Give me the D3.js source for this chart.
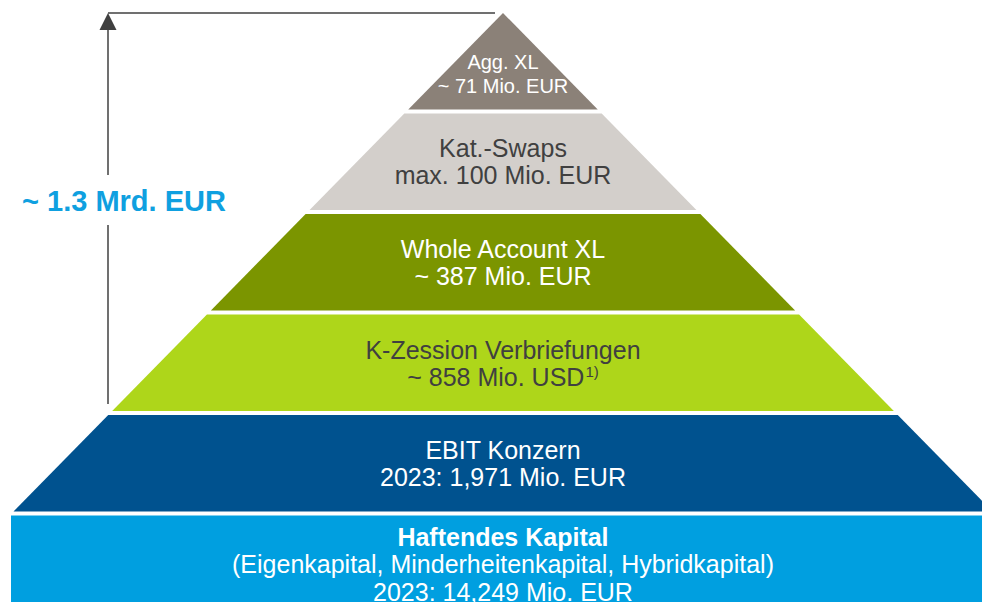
<!DOCTYPE html>
<html><head><meta charset="utf-8">
<script src="https://cdn.jsdelivr.net/npm/d3@7/dist/d3.min.js"></script>
<style>html,body{margin:0;padding:0;background:#fff;overflow:hidden}</style>
</head><body>
<svg id="chart" width="982" height="602"></svg>
<script>
// ---- data ----
const layers = ["Agg. XL", "Kat.-Swaps", "Whole Account XL", "K-Zession Verbriefungen", "EBIT Konzern", "Haftendes Kapital"];
const subLabels = ["", "", "", "", "", "(Eigenkapital, Minderheitenkapital, Hybridkapital)"];
const valueLabels = ["~ 71 Mio. EUR", "max. 100 Mio. EUR", "~ 387 Mio. EUR", "~ 858 Mio. USD", "2023: 1,971 Mio. EUR", "2023: 14,249 Mio. EUR"];
const footnotes = ["", "", "", "1)", "", ""];
const totalLabel = "~ 1.3 Mrd. EUR";

// ---- styles ----
const fills = ["#8b8178", "#d3cfcb", "#7b9500", "#aed61a", "#00528f", "#009fe0"];
const textFills = ["#ffffff", "#404040", "#ffffff", "#404040", "#ffffff", "#ffffff"];
const boldTitle = [false, false, false, false, false, true];

const W = 982, H = 602, cx = 503;
const svg = d3.select("#chart");
const font = "'Liberation Sans', Arial, sans-serif";

const y = d3.scaleBand().domain(layers).range([13, 612]).paddingInner(0.04);
const half = d3.scaleLinear().domain([13, 512]).range([0, 490]);

const g = svg.append("g");
layers.forEach((name, i) => {
  const y0 = y(name), y1 = y0 + y.bandwidth();
  let pts;
  if (i === layers.length - 1) {
    pts = [[11, y0], [W + 5, y0], [W + 5, y1], [11, y1]];
  } else {
    pts = [[cx - half(y0), y0], [cx + half(y0), y0], [cx + half(y1), y1], [cx - half(y1), y1]];
  }
  g.append("path").attr("d", d3.line()(pts) + "Z").attr("fill", fills[i]);

  const lines = [{t: name, bold: boldTitle[i]}];
  if (subLabels[i]) lines.push({t: subLabels[i]});
  lines.push({t: valueLabels[i], fn: footnotes[i]});
  const fs = i === 0 ? 20 : 25;
  const lh = i === 0 ? 24 : (lines.length === 3 ? 27.5 : 27);
  const center = i === 0 ? y0 + y.bandwidth() * 0.635 : y0 + y.bandwidth() / 2 + 0.5;
  lines.forEach((ln, k) => {
    const ty = center + (k - (lines.length - 1) / 2) * lh;
    const t = g.append("text")
      .attr("x", cx).attr("y", ty).attr("dy", "0.35em")
      .attr("text-anchor", "middle")
      .attr("font-family", font).attr("font-size", fs)
      .attr("font-weight", ln.bold ? "bold" : "normal")
      .attr("fill", textFills[i]);
    t.append("tspan").text(ln.t);
    if (ln.fn) {
      t.append("tspan").attr("font-size", 15).attr("dy", "-0.55em").attr("dx", 1).text(ln.fn);
    }
  });
});

// ---- arrow ----
const ax = 108, topY = 13;
const arrowColor = "#404040";
svg.append("line").attr("x1", ax).attr("x2", 495).attr("y1", topY).attr("y2", topY)
  .attr("stroke", arrowColor).attr("stroke-width", 1.5);
svg.append("line").attr("x1", ax).attr("x2", ax).attr("y1", 28).attr("y2", 175)
  .attr("stroke", arrowColor).attr("stroke-width", 1.5);
svg.append("line").attr("x1", ax).attr("x2", ax).attr("y1", 225).attr("y2", 404)
  .attr("stroke", arrowColor).attr("stroke-width", 1.5);
svg.append("path").attr("d", d3.line()([[ax, topY], [ax + 8.5, 30], [ax - 8.5, 30]]) + "Z")
  .attr("fill", arrowColor);
svg.append("text").attr("x", 124).attr("y", 201).attr("dy", "0.35em")
  .attr("text-anchor", "middle").attr("font-family", font).attr("font-size", 29)
  .attr("font-weight", "bold").attr("fill", "#0fa0e0").text(totalLabel);
</script>
</body></html>
